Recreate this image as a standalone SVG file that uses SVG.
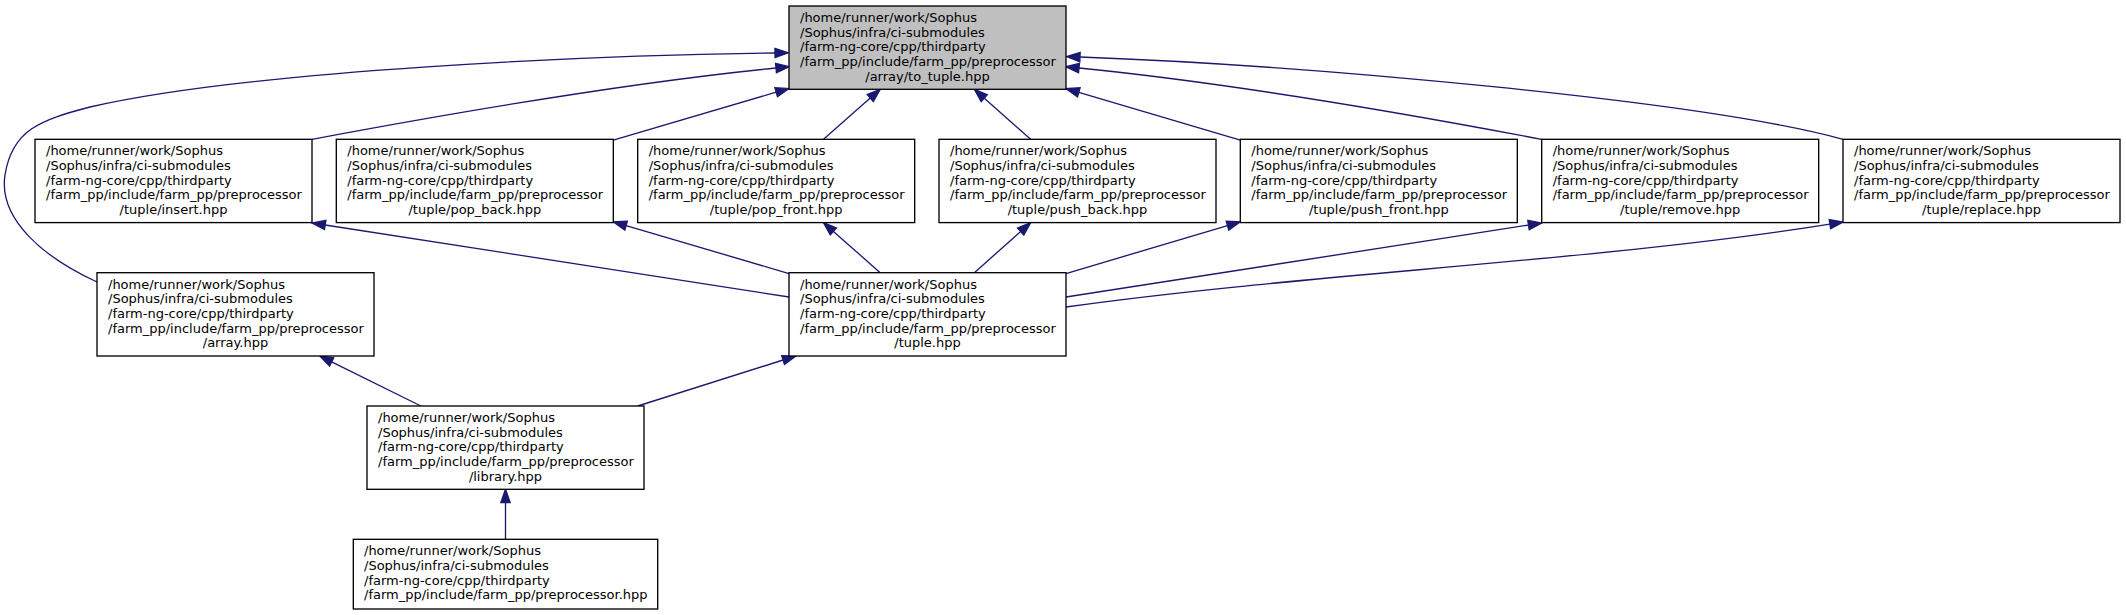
<svg xmlns="http://www.w3.org/2000/svg" width="2126" height="615" viewBox="0 0 2126 615">
<style>
.node rect{fill:#ffffff;stroke:#000000;stroke-width:1.33}
.node.top rect{fill:#bfbfbf}
.node text{font-family:"DejaVu Sans","Liberation Sans",sans-serif;font-size:13px;fill:#000000}
.c{text-anchor:middle}
.edges path{fill:none;stroke:#191970;stroke-width:1.33}
.edges polygon{fill:#191970;stroke:#191970;stroke-width:1.33}
</style>
<rect width="2126" height="615" fill="#ffffff"/>
<g class="edges">
<path d="M97,282 C45,258 -2,220 5,175 C12,130 40,120 90,107 C250,70 600,55 775,53"/>
<polygon points="775.05,57.67 774.95,48.33 788.3,52.85"/>
<path d="M312,139.3 C415,120 605,85 776,68"/>
<polygon points="776.46,72.65 775.54,63.35 789.2,66.7"/>
<path d="M613.3,140.2 L776.2,92.2"/>
<polygon points="777.5,96.7 774.9,87.7 789,88.45"/>
<path d="M823.5,139.3 L870.25,98.1"/>
<polygon points="873.3,101.6 867.2,94.6 880.25,89.3"/>
<path d="M1030.6,139.3 L984.3,98.16"/>
<polygon points="987.4,94.67 981.2,101.65 974.35,89.3"/>
<path d="M1240.3,140.1 L1078.8,92.3"/>
<polygon points="1080.1,87.8 1077.5,96.8 1066,88.55"/>
<path d="M1541.7,139.3 C1440,120 1250,85 1079,68"/>
<polygon points="1079.46,63.35 1078.54,72.65 1065.76,66.68"/>
<path d="M1843,139.3 C1700,100 1300,65 1080,57"/>
<polygon points="1080.17,52.33 1079.83,61.67 1066.7,56.5"/>
<path d="M789,297 L325.2,225"/>
<polygon points="325.9,220.4 324.5,229.6 312,223"/>
<path d="M789,273.55 L626.1,225.6"/>
<polygon points="627.4,221.1 624.8,230.1 613.3,221.8"/>
<path d="M880.2,272.7 L833.4,231.4"/>
<polygon points="836.5,227.9 830.3,234.9 823.4,222.6"/>
<path d="M974.35,272.7 L1020.7,231.5"/>
<polygon points="1023.8,235 1017.6,228 1030.7,222.6"/>
<path d="M1066,273.55 L1227.5,225.6"/>
<polygon points="1228.8,230.1 1226.2,221.1 1240.3,221.8"/>
<path d="M1066,297 L1528.5,225.05"/>
<polygon points="1529.2,229.7 1527.8,220.4 1541.7,223"/>
<path d="M1066,307 C1300,274 1600,261 1829.9,224.1"/>
<polygon points="1830.6,228.7 1829.2,219.5 1843.06,222"/>
<path d="M637.8,406 L783.1,360"/>
<polygon points="784.5,364.5 781.7,355.6 795.8,356"/>
<path d="M420.9,406 L331.65,361.9"/>
<polygon points="333.7,357.7 329.6,366.1 319.7,356"/>
<path d="M505.5,539.3 L505.5,502.6"/>
<polygon points="510.17,502.6 500.83,502.6 505.5,489.3"/>
</g>
<g id="node_to_tuple" class="node top">
<rect x="789" y="6" width="277" height="83.3"/>
<text><tspan x="800" y="22">/home/runner/work/Sophus</tspan><tspan x="800" y="36.7">/Sophus/infra/ci-submodules</tspan><tspan x="800" y="51.3">/farm-ng-core/cpp/thirdparty</tspan><tspan x="800" y="66">/farm_pp/include/farm_pp/preprocessor</tspan><tspan class="c" x="927.5" y="80.7">/array/to_tuple.hpp</tspan></text>
</g>
<g id="node_insert" class="node">
<rect x="35" y="139.3" width="277" height="83.3"/>
<text><tspan x="46" y="155.3">/home/runner/work/Sophus</tspan><tspan x="46" y="170">/Sophus/infra/ci-submodules</tspan><tspan x="46" y="184.7">/farm-ng-core/cpp/thirdparty</tspan><tspan x="46" y="199.3">/farm_pp/include/farm_pp/preprocessor</tspan><tspan class="c" x="173.5" y="214">/tuple/insert.hpp</tspan></text>
</g>
<g id="node_pop_back" class="node">
<rect x="336.3" y="139.3" width="277" height="83.3"/>
<text><tspan x="347.3" y="155.3">/home/runner/work/Sophus</tspan><tspan x="347.3" y="170">/Sophus/infra/ci-submodules</tspan><tspan x="347.3" y="184.7">/farm-ng-core/cpp/thirdparty</tspan><tspan x="347.3" y="199.3">/farm_pp/include/farm_pp/preprocessor</tspan><tspan class="c" x="474.8" y="214">/tuple/pop_back.hpp</tspan></text>
</g>
<g id="node_pop_front" class="node">
<rect x="637.7" y="139.3" width="277" height="83.3"/>
<text><tspan x="648.7" y="155.3">/home/runner/work/Sophus</tspan><tspan x="648.7" y="170">/Sophus/infra/ci-submodules</tspan><tspan x="648.7" y="184.7">/farm-ng-core/cpp/thirdparty</tspan><tspan x="648.7" y="199.3">/farm_pp/include/farm_pp/preprocessor</tspan><tspan class="c" x="776.2" y="214">/tuple/pop_front.hpp</tspan></text>
</g>
<g id="node_push_back" class="node">
<rect x="939" y="139.3" width="277" height="83.3"/>
<text><tspan x="950" y="155.3">/home/runner/work/Sophus</tspan><tspan x="950" y="170">/Sophus/infra/ci-submodules</tspan><tspan x="950" y="184.7">/farm-ng-core/cpp/thirdparty</tspan><tspan x="950" y="199.3">/farm_pp/include/farm_pp/preprocessor</tspan><tspan class="c" x="1077.5" y="214">/tuple/push_back.hpp</tspan></text>
</g>
<g id="node_push_front" class="node">
<rect x="1240.3" y="139.3" width="277" height="83.3"/>
<text><tspan x="1251.3" y="155.3">/home/runner/work/Sophus</tspan><tspan x="1251.3" y="170">/Sophus/infra/ci-submodules</tspan><tspan x="1251.3" y="184.7">/farm-ng-core/cpp/thirdparty</tspan><tspan x="1251.3" y="199.3">/farm_pp/include/farm_pp/preprocessor</tspan><tspan class="c" x="1378.8" y="214">/tuple/push_front.hpp</tspan></text>
</g>
<g id="node_remove" class="node">
<rect x="1541.7" y="139.3" width="277" height="83.3"/>
<text><tspan x="1552.7" y="155.3">/home/runner/work/Sophus</tspan><tspan x="1552.7" y="170">/Sophus/infra/ci-submodules</tspan><tspan x="1552.7" y="184.7">/farm-ng-core/cpp/thirdparty</tspan><tspan x="1552.7" y="199.3">/farm_pp/include/farm_pp/preprocessor</tspan><tspan class="c" x="1680.2" y="214">/tuple/remove.hpp</tspan></text>
</g>
<g id="node_replace" class="node">
<rect x="1843" y="139.3" width="277" height="83.3"/>
<text><tspan x="1854" y="155.3">/home/runner/work/Sophus</tspan><tspan x="1854" y="170">/Sophus/infra/ci-submodules</tspan><tspan x="1854" y="184.7">/farm-ng-core/cpp/thirdparty</tspan><tspan x="1854" y="199.3">/farm_pp/include/farm_pp/preprocessor</tspan><tspan class="c" x="1981.5" y="214">/tuple/replace.hpp</tspan></text>
</g>
<g id="node_array" class="node">
<rect x="97" y="272.7" width="277" height="83.3"/>
<text><tspan x="108" y="288.7">/home/runner/work/Sophus</tspan><tspan x="108" y="303.3">/Sophus/infra/ci-submodules</tspan><tspan x="108" y="318">/farm-ng-core/cpp/thirdparty</tspan><tspan x="108" y="332.7">/farm_pp/include/farm_pp/preprocessor</tspan><tspan class="c" x="235.5" y="347.3">/array.hpp</tspan></text>
</g>
<g id="node_tuple" class="node">
<rect x="789" y="272.7" width="277" height="83.3"/>
<text><tspan x="800" y="288.7">/home/runner/work/Sophus</tspan><tspan x="800" y="303.3">/Sophus/infra/ci-submodules</tspan><tspan x="800" y="318">/farm-ng-core/cpp/thirdparty</tspan><tspan x="800" y="332.7">/farm_pp/include/farm_pp/preprocessor</tspan><tspan class="c" x="927.5" y="347.3">/tuple.hpp</tspan></text>
</g>
<g id="node_library" class="node">
<rect x="367" y="406" width="277" height="83.3"/>
<text><tspan x="378" y="422">/home/runner/work/Sophus</tspan><tspan x="378" y="436.7">/Sophus/infra/ci-submodules</tspan><tspan x="378" y="451.3">/farm-ng-core/cpp/thirdparty</tspan><tspan x="378" y="466">/farm_pp/include/farm_pp/preprocessor</tspan><tspan class="c" x="505.5" y="480.7">/library.hpp</tspan></text>
</g>
<g id="node_preprocessor" class="node">
<rect x="353.3" y="539.3" width="304.4" height="69.7"/>
<text><tspan x="364" y="555.3">/home/runner/work/Sophus</tspan><tspan x="364" y="570">/Sophus/infra/ci-submodules</tspan><tspan x="364" y="584.7">/farm-ng-core/cpp/thirdparty</tspan><tspan x="364" y="599.3">/farm_pp/include/farm_pp/preprocessor.hpp</tspan></text>
</g>
</svg>
